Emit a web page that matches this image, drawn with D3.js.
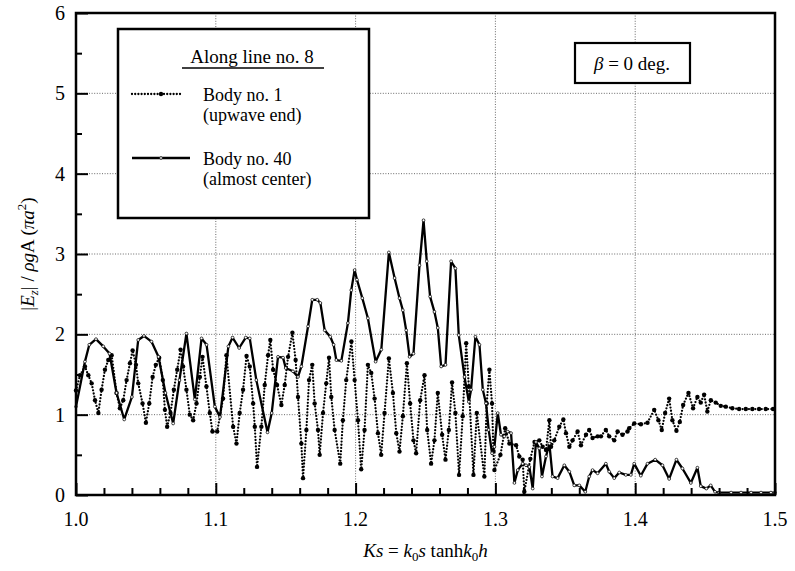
<!DOCTYPE html>
<html>
<head>
<meta charset="utf-8">
<script src="https://cdn.jsdelivr.net/npm/d3@7"></script>
<style>
body { margin:0; background:#fff; }
svg, text { font-family: "Liberation Serif", "Times New Roman", Times, "DejaVu Serif", serif; }
text { fill:#000; }
</style>
</head>
<body>
<svg id="graph1"></svg>
<script>
// Body no. 40 (almost center) - solid line
var body40X = [1.0000,1.0064,1.0095,1.0143,1.0195,1.0240,1.0290,1.0345,1.0400,1.0445,1.0486,1.0540,1.0590,1.0640,1.0695,1.0740,1.0790,1.0850,1.0898,1.0934,1.0993,
    1.1030,1.1090,1.1120,1.1167,1.1214,1.1243,1.1290,1.1370,1.1400,1.1445,1.1481,1.1500,1.1552,1.1588,1.1612,1.1660,1.1690,1.1726,1.1748,1.1779,1.1819,1.1843,1.1862,1.1898,1.1945,1.1969,1.1993,
    1.2010,1.2048,1.2088,1.2143,1.2184,1.2238,1.2279,1.2314,1.2338,1.2362,1.2386,1.2414,1.2457,1.2486,1.2509,1.2533,1.2564,1.2588,1.2612,1.2643,1.2683,1.2714,1.2738,1.2779,1.2810,1.2826,1.2857,1.2886,1.2910,1.2933,1.2952,1.2976,1.2993,
    1.3017,1.3040,1.3064,1.3088,1.3112,1.3136,1.3160,1.3195,1.3219,1.3243,1.3267,1.3290,1.3314,1.3333,1.3362,1.3386,1.3409,1.3445,1.3493,1.3529,1.3564,1.3600,1.3643,1.3671,1.3695,1.3731,1.3790,1.3814,1.3850,1.3886,1.3933,1.3969,1.3993,
    1.4040,1.4088,1.4143,1.4195,1.4243,1.4295,1.4338,1.4398,1.4445,1.4469,1.4509,1.4540,1.4571,1.4600,1.4686,1.4757,1.4829,1.4900,1.4971,1.5000]
var body40Y = [1.10,1.66,1.87,1.94,1.85,1.76,1.27,0.94,1.22,1.93,1.98,1.91,1.72,1.27,0.89,1.43,2.01,1.19,1.95,1.87,1.10,
    0.97,1.85,1.96,1.83,1.96,1.95,1.43,0.78,1.02,1.72,1.71,1.58,1.54,1.47,1.60,2.10,2.43,2.43,2.39,2.05,1.97,1.87,1.68,1.67,2.14,2.55,2.80,
    2.68,2.45,2.20,1.66,1.81,3.02,2.70,2.45,2.30,2.05,1.72,1.76,2.86,3.42,2.91,2.47,2.28,2.08,1.60,1.62,2.91,2.82,1.99,1.47,1.16,1.31,1.97,1.87,1.31,1.14,0.81,0.52,0.60,
    1.02,0.75,0.73,0.79,0.77,0.15,0.31,0.39,0.37,0.35,0.08,0.66,0.58,0.23,0.48,0.64,0.23,0.21,0.37,0.29,0.12,0.12,0.04,0.23,0.31,0.27,0.39,0.29,0.21,0.28,0.25,0.25,0.39,
    0.24,0.39,0.44,0.37,0.20,0.44,0.33,0.15,0.34,0.11,0.08,0.12,0.04,0.03,0.03,0.03,0.03,0.03,0.03,0.03]

// Body no. 1 (upwave end) - dotted line
var body1X = [1.0000,1.0029,1.0064,1.0088,1.0112,1.0136,1.0160,1.0183,1.0207,1.0231,1.0255,1.0290,1.0314,1.0338,1.0362,1.0386,1.0405,1.0429,1.0445,1.0476,1.0500,1.0524,1.0548,1.0571,1.0595,1.0621,1.0636,1.0652,1.0676,1.0700,1.0724,1.0748,1.0766,1.0790,1.0814,1.0838,1.0862,1.0886,1.0905,1.0933,1.0957,1.0976,
    1.1010,1.1052,1.1076,1.1124,1.1148,1.1171,1.1195,1.1220,1.1243,1.1267,1.1279,1.1295,1.1326,1.1350,1.1374,1.1390,1.1410,1.1438,1.1469,1.1493,1.1517,1.1548,1.1571,1.1588,1.1612,1.1624,1.1648,1.1667,1.1690,1.1707,1.1731,1.1743,1.1767,1.1790,1.1810,1.1826,1.1850,1.1890,1.1909,1.1933,1.1970,1.1993,
    1.2017,1.2040,1.2064,1.2088,1.2112,1.2136,1.2160,1.2183,1.2207,1.2238,1.2267,1.2291,1.2314,1.2338,1.2367,1.2390,1.2414,1.2433,1.2462,1.2493,1.2512,1.2540,1.2564,1.2588,1.2619,1.2643,1.2667,1.2690,1.2714,1.2740,1.2766,1.2791,1.2810,1.2843,1.2867,1.2921,1.2938,1.2957,1.2976,1.2986,1.2993,
    1.3036,1.3070,1.3100,1.3148,1.3171,1.3195,1.3207,1.3250,1.3280,1.3314,1.3338,1.3362,1.3386,1.3398,1.3421,1.3457,1.3486,1.3505,1.3529,1.3552,1.3588,1.3612,1.3648,1.3671,1.3695,1.3731,1.3755,1.3790,1.3814,1.3850,1.3874,1.3909,1.3945,1.3957,1.3993,
    1.4041,1.4088,1.4136,1.4166,1.4190,1.4214,1.4243,1.4266,1.4295,1.4319,1.4343,1.4381,1.4414,1.4445,1.4469,1.4493,1.4516,1.4541,1.4576,1.4612,1.4648,1.4695,1.4743,1.4791,1.4838,1.4886,1.4934,1.4986]
var body1Y = [1.30,1.49,1.60,1.49,1.39,1.18,1.02,1.31,1.56,1.68,1.74,1.27,1.08,1.18,1.43,1.64,1.80,1.62,1.39,1.14,0.90,1.14,1.47,1.62,1.71,1.43,1.06,0.85,1.02,1.31,1.56,1.81,1.60,1.31,1.00,0.93,1.14,1.47,1.72,1.35,1.02,0.79,
    0.79,1.20,1.74,0.85,0.64,1.02,1.31,1.73,1.60,1.14,0.85,0.35,0.85,1.37,1.74,1.93,1.56,1.37,1.12,1.37,1.72,2.02,1.68,1.22,0.64,0.21,0.81,1.43,1.62,1.14,0.81,0.50,1.02,1.39,1.71,1.22,0.81,0.39,0.93,1.43,1.91,1.43,
    0.93,0.32,0.81,1.62,1.52,1.20,0.77,0.50,1.02,1.70,1.27,0.77,0.54,0.98,1.64,1.14,0.68,0.52,1.18,1.49,0.81,0.39,0.68,1.27,0.75,0.44,0.81,1.40,1.02,0.25,0.98,1.89,1.35,0.25,1.02,0.23,1.14,1.56,1.14,0.54,0.31,
    0.50,0.83,0.64,0.62,0.48,0.44,0.04,0.45,0.66,0.68,0.60,0.56,0.93,0.60,0.68,0.85,0.94,0.77,0.60,0.68,0.79,0.62,0.75,0.81,0.71,0.73,0.73,0.81,0.73,0.68,0.79,0.75,0.79,0.83,0.89,
    0.88,0.90,1.06,0.93,0.81,1.02,1.20,0.93,0.80,0.91,1.12,1.27,1.08,1.22,1.15,1.25,1.04,1.18,1.15,1.11,1.10,1.08,1.07,1.07,1.07,1.07,1.07,1.07]

var xTicks = [1.0, 1.1, 1.2, 1.3, 1.4, 1.5]
var yTicks = [0, 1, 2, 3, 4, 5, 6]

var serif = "'Liberation Serif', 'Times New Roman', Times, 'DejaVu Serif', serif"

var zip = function(xs, ys)
{
    return xs.map(function(x, i) { return {x: x, y: ys[i]} })
}

var initGraph = function()
{
    var screen = {width: 795, height: 571}
    var margins = {left: 76, right: 20, top: 13, bottom: 76}
    var graph =
        {
            width: screen.width - margins.left - margins.right,
            height: screen.height - margins.top - margins.bottom
        }

    var svg = d3.select("#graph1")
        .attr("width", screen.width)
        .attr("height", screen.height)
        .attr("font-family", serif)

    var target = svg.append("g")
        .attr("transform", "translate(" + margins.left + "," + margins.top + ")")

    var xScale = d3.scaleLinear()
        .domain([1.0, 1.5])
        .range([0, graph.width])

    var yScale = d3.scaleLinear()
        .domain([0, 6])
        .range([graph.height, 0])

    drawGrid(target, graph, xScale, yScale)
    drawLines(target, xScale, yScale)
    drawAxis(target, graph, xScale, yScale)
    drawLegend(svg)
    drawLabels(svg, graph, margins)
}

var drawGrid = function(target, graph, xScale, yScale)
{
    var grid = target.append("g")
        .attr("stroke", "#444")
        .attr("stroke-width", 0.8)
        .attr("stroke-dasharray", "1,1.6")

    grid.selectAll(".vx")
        .data(xTicks.slice(1, -1))
        .enter()
        .append("line")
        .attr("x1", function(d) { return xScale(d) })
        .attr("x2", function(d) { return xScale(d) })
        .attr("y1", 0)
        .attr("y2", graph.height)

    grid.selectAll(".hy")
        .data(yTicks.slice(1, -1))
        .enter()
        .append("line")
        .attr("y1", function(d) { return yScale(d) })
        .attr("y2", function(d) { return yScale(d) })
        .attr("x1", 0)
        .attr("x2", graph.width)
}

var drawLines = function(target, xScale, yScale)
{
    var line = d3.line()
        .x(function(d) { return xScale(d.x) })
        .y(function(d) { return yScale(d.y) })

    var body1 = zip(body1X, body1Y)
    var body40 = zip(body40X, body40Y)

    // dotted line, body no. 1
    target.append("path")
        .datum(body1)
        .attr("d", line)
        .attr("fill", "none")
        .attr("stroke", "#000")
        .attr("stroke-width", 2.3)
        .attr("stroke-linecap", "round")
        .attr("stroke-dasharray", "0,3.2")

    target.append("g")
        .selectAll("circle")
        .data(body1)
        .enter()
        .append("circle")
        .attr("cx", function(d) { return xScale(d.x) })
        .attr("cy", function(d) { return yScale(d.y) })
        .attr("r", 2.2)
        .attr("fill", "#000")

    // solid line, body no. 40
    target.append("path")
        .datum(body40)
        .attr("d", line)
        .attr("fill", "none")
        .attr("stroke", "#000")
        .attr("stroke-width", 2.3)
        .attr("stroke-linejoin", "round")

    target.append("g")
        .selectAll("circle")
        .data(body40)
        .enter()
        .append("circle")
        .attr("cx", function(d) { return xScale(d.x) })
        .attr("cy", function(d) { return yScale(d.y) })
        .attr("r", 1.4)
        .attr("fill", "#fff")
        .attr("stroke", "#000")
        .attr("stroke-width", 0.7)
}

var drawAxis = function(target, graph, xScale, yScale)
{
    var xAxis = d3.axisBottom(xScale)
        .tickValues(d3.range(1.0, 1.5001, 0.02))
        .tickSizeInner(-7)
        .tickSizeOuter(0)
        .tickFormat("")

    var yAxis = d3.axisLeft(yScale)
        .tickValues(d3.range(0, 6.001, 0.5))
        .tickSizeInner(-6)
        .tickSizeOuter(0)
        .tickFormat("")

    var gx = target.append("g")
        .attr("transform", "translate(0," + graph.height + ")")
        .call(xAxis)
    gx.selectAll(".tick line")
        .attr("stroke-width", 2)
        .attr("y2", function(d) { return Math.abs(Math.round(d * 10) - d * 10) < 1e-6 ? -12 : -7 })
    gx.select(".domain").remove()

    var gy = target.append("g")
        .call(yAxis)
    gy.selectAll(".tick line")
        .attr("stroke-width", 2)
        .attr("x2", function(d) { return d % 1 == 0 ? 12 : 6 })
    gy.select(".domain").remove()

    // frame
    target.append("rect")
        .attr("x", 0)
        .attr("y", 0)
        .attr("width", graph.width)
        .attr("height", graph.height)
        .attr("fill", "none")
        .attr("stroke", "#000")
        .attr("stroke-width", 2.5)

    target.append("g")
        .selectAll("text")
        .data(xTicks)
        .enter()
        .append("text")
        .attr("x", function(d) { return xScale(d) })
        .attr("y", graph.height + 31)
        .attr("text-anchor", "middle")
        .attr("font-size", 20)
        .text(function(d) { return d.toFixed(1) })

    target.append("g")
        .selectAll("text")
        .data(yTicks)
        .enter()
        .append("text")
        .attr("x", -11)
        .attr("y", function(d) { return yScale(d) + 7 })
        .attr("text-anchor", "end")
        .attr("font-size", 20)
        .text(function(d) { return d })
}

var drawLegend = function(svg)
{
    var legend = svg.append("g")

    legend.append("rect")
        .attr("x", 118)
        .attr("y", 29)
        .attr("width", 251)
        .attr("height", 189)
        .attr("fill", "#fff")
        .attr("stroke", "#000")
        .attr("stroke-width", 2.5)

    legend.append("text")
        .attr("x", 252)
        .attr("y", 63)
        .attr("text-anchor", "middle")
        .attr("font-size", 19)
        .text("Along line no. 8")
    legend.append("line")
        .attr("x1", 182).attr("x2", 324)
        .attr("y1", 68).attr("y2", 68)
        .attr("stroke", "#000")
        .attr("stroke-width", 1.3)

    legend.append("line")
        .attr("x1", 132).attr("x2", 183)
        .attr("y1", 94).attr("y2", 94)
        .attr("stroke", "#000")
        .attr("stroke-width", 2.3)
        .attr("stroke-linecap", "round")
        .attr("stroke-dasharray", "0,3.2")
    legend.append("circle")
        .attr("cx", 161).attr("cy", 94).attr("r", 2.2)
        .attr("fill", "#000")

    legend.append("line")
        .attr("x1", 132).attr("x2", 190)
        .attr("y1", 158).attr("y2", 158)
        .attr("stroke", "#000")
        .attr("stroke-width", 2.3)
    legend.append("circle")
        .attr("cx", 161).attr("cy", 158).attr("r", 1.4)
        .attr("fill", "#fff")
        .attr("stroke", "#000")
        .attr("stroke-width", 0.7)

    var lines = [["Body no. 1", 101], ["(upwave end)", 121], ["Body no. 40", 165], ["(almost center)", 185]]
    legend.selectAll(".lt")
        .data(lines)
        .enter()
        .append("text")
        .attr("x", 203)
        .attr("y", function(d) { return d[1] })
        .attr("font-size", 18)
        .text(function(d) { return d[0] })

    // beta box
    legend.append("rect")
        .attr("x", 575)
        .attr("y", 43)
        .attr("width", 115)
        .attr("height", 40)
        .attr("fill", "#fff")
        .attr("stroke", "#000")
        .attr("stroke-width", 2.2)
    var beta = legend.append("text")
        .attr("x", 632)
        .attr("y", 70)
        .attr("text-anchor", "middle")
        .attr("font-size", 19)
    beta.append("tspan").attr("font-style", "italic").text("β")
    beta.append("tspan").text(" = 0 deg.")
}

var drawLabels = function(svg, graph, margins)
{
    var xl = svg.append("text")
        .attr("x", margins.left + graph.width / 2)
        .attr("y", 557)
        .attr("text-anchor", "middle")
        .attr("font-size", 19)
    xl.append("tspan").attr("font-style", "italic").text("Ks")
    xl.append("tspan").text(" = ")
    xl.append("tspan").attr("font-style", "italic").text("k")
    xl.append("tspan").attr("font-size", 13).attr("dy", 4).text("0")
    xl.append("tspan").attr("font-style", "italic").attr("dy", -4).text("s")
    xl.append("tspan").text(" tanh")
    xl.append("tspan").attr("font-style", "italic").text("k")
    xl.append("tspan").attr("font-size", 13).attr("dy", 4).text("0")
    xl.append("tspan").attr("font-style", "italic").attr("dy", -4).text("h")

    var yl = svg.append("g")
        .attr("transform", "translate(34," + (margins.top + graph.height / 2) + ")")
        .append("text")
        .attr("transform", "rotate(270)")
        .attr("text-anchor", "middle")
        .attr("font-size", 19)
    yl.append("tspan").text("|")
    yl.append("tspan").attr("font-style", "italic").text("E")
    yl.append("tspan").attr("font-style", "italic").attr("font-size", 13).attr("dy", 4).text("z")
    yl.append("tspan").attr("dy", -4).text("| / ")
    yl.append("tspan").attr("font-style", "italic").text("ρg")
    yl.append("tspan").text("A (")
    yl.append("tspan").attr("font-style", "italic").text("πa")
    yl.append("tspan").attr("font-size", 13).attr("dy", -8).text("2")
    yl.append("tspan").attr("dy", 8).text(")")
}

initGraph()
</script>
</body>
</html>
